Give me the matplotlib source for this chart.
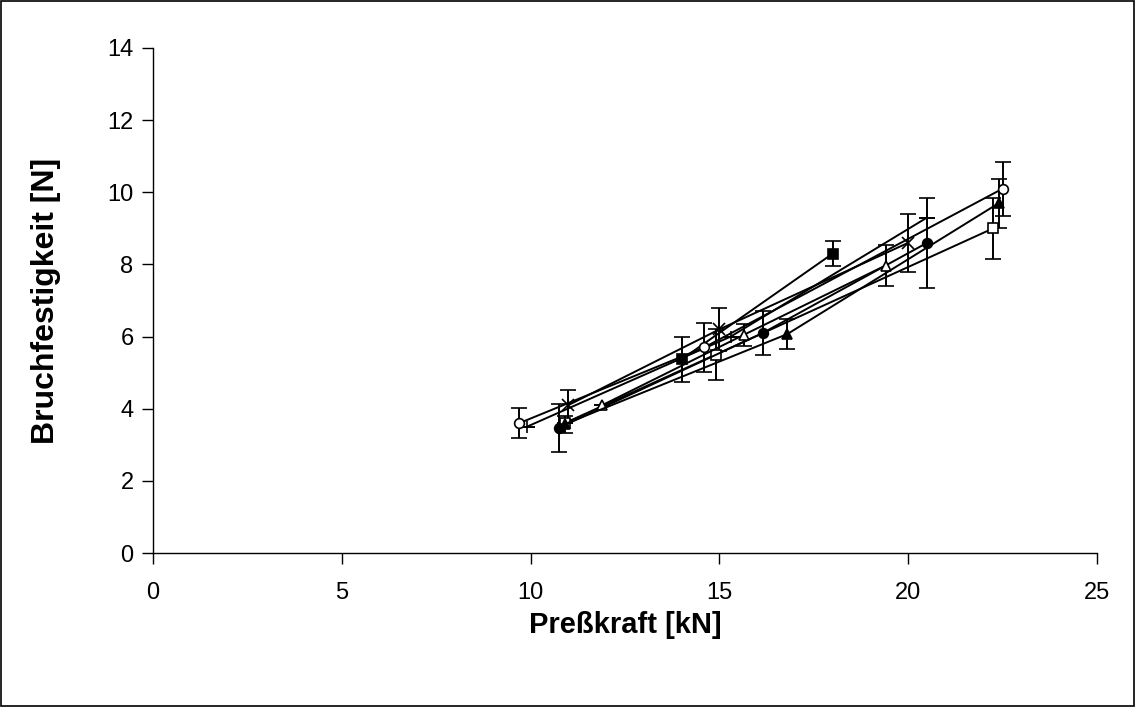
import matplotlib.pyplot as plt
from matplotlib.patches import Rectangle

plt.rcParams['font.family'] = ['Liberation Sans', 'DejaVu Sans']

# Preßkraft [kN], Bruchfestigkeit [N] and standard deviation per batch
oc_x = [9.7, 14.6, 22.5]
oc_y = [3.6, 5.7, 10.1]
oc_e = [0.42, 0.68, 0.75]

pl_x = [9.9, 15.3, 20.5]
pl_y = [3.5, 6.0, 9.3]
pl_e = [0.0, 0.0, 0.0]

fc_x = [10.75, 16.15, 20.5]
fc_y = [3.47, 6.1, 8.6]
fc_e = [0.67, 0.6, 1.25]

ft_x = [10.9, 16.8, 22.4]
ft_y = [3.57, 6.07, 9.7]
ft_e = [0.23, 0.42, 0.68]

ot_x = [11.9, 15.65, 19.4]
ot_y = [4.1, 6.05, 7.97]
ot_e = [0.0, 0.3, 0.57]

xx_x = [11.0, 15.0, 20.0]
xx_y = [4.1, 6.2, 8.6]
xx_e = [0.42, 0.6, 0.8]

fs_x = [14.0, 18.0]
fs_y = [5.37, 8.3]
fs_e = [0.62, 0.35]

os_x = [10.9, 14.9, 22.25]
os_y = [3.6, 5.5, 9.0]
os_e = [0.0, 0.7, 0.85]

series = [
    (os_x, os_y, os_e, 's', 'white'),
    (fs_x, fs_y, fs_e, 's', 'black'),
    (xx_x, xx_y, xx_e, 'x', 'black'),
    (pl_x, pl_y, pl_e, '+', 'black'),
    (oc_x, oc_y, oc_e, 'o', 'white'),
    (fc_x, fc_y, fc_e, 'o', 'black'),
    (ot_x, ot_y, ot_e, '^', 'white'),
    (ft_x, ft_y, ft_e, '^', 'black'),
]

fig = plt.figure(figsize=(11.35, 7.07), dpi=100)
ax = fig.add_axes([153 / 1135, 1 - 553 / 707, 944 / 1135, 505 / 707])

for x, y, e, m, fc in series:
    ax.errorbar(x, y, yerr=e, color='black', lw=1.4, elinewidth=1.4,
                capsize=6, capthick=1.4, marker=m, markersize=8 if m in 'x+' else 7,
                markerfacecolor=fc, markeredgecolor='black', markeredgewidth=1.2)

ax.set_xlim(0, 25)
ax.set_ylim(0, 14)
ax.set_xticks(range(0, 26, 5))
ax.set_yticks(range(0, 15, 2))
ax.spines['top'].set_visible(False)
ax.spines['right'].set_visible(False)
for s in ['left', 'bottom']:
    ax.spines[s].set_linewidth(1.0)
ax.tick_params(direction='out', length=8, width=1.0, labelsize=17)
ax.tick_params(axis='x', pad=13)
ax.tick_params(axis='y', pad=6)

ax.set_xlabel('Preßkraft [kN]', fontsize=21, fontweight='bold', labelpad=5)
ax.set_ylabel('Bruchfestigkeit [N]', fontsize=23, fontweight='bold', labelpad=33)

fig.patches.append(Rectangle((0.001, 0.001), 0.998, 0.998, transform=fig.transFigure,
                             fill=False, edgecolor='black', lw=1.2))

fig.savefig('out.png', dpi=100)
